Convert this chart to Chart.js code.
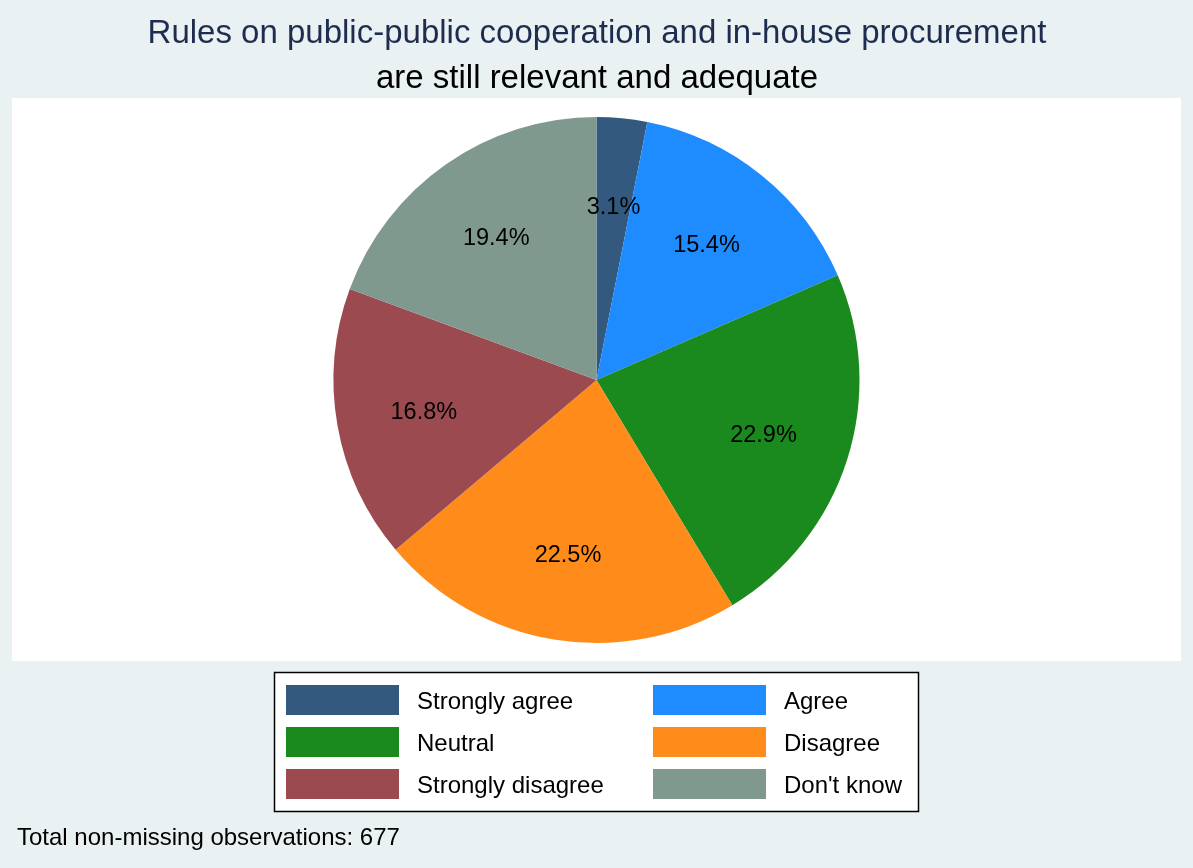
<!DOCTYPE html>
<html>
<head>
<meta charset="utf-8">
<script src="https://cdn.jsdelivr.net/npm/chart.js@4/dist/chart.umd.min.js"></script>
<style>
	html, body { margin: 0; padding: 0; background: #eaf1f3; }
	#wrap { position: relative; width: 1193px; height: 868px; }
</style>
</head>
<body>
<div id="wrap"><canvas id="pie"></canvas></div>
<script>
const categories = ["Strongly agree", "Agree", "Neutral", "Disagree", "Strongly disagree", "Don't know"];
const shares = [3.1, 15.4, 22.9, 22.5, 16.8, 19.4];
const colors = ["#335a7e", "#1e8cff", "#1b8a1e", "#ff8c1a", "#9b4a50", "#80998f"];
const titleLines = ["Rules on public-public cooperation and in-house procurement", "are still relevant and adequate"];
const note = "Total non-missing observations: 677";

const FONT = "'Liberation Sans', Arial, sans-serif";

// background, white plot region, titles, legend box and note
const frame = {
	id: "frame",
	beforeDraw(chart) {
		const ctx = chart.ctx;
		ctx.save();
		ctx.fillStyle = "#eaf1f3";
		ctx.fillRect(0, 0, chart.width, chart.height);
		ctx.fillStyle = "#ffffff";
		ctx.fillRect(12, 98, 1169, 563);
		ctx.restore();
	},
	afterDraw(chart) {
		const ctx = chart.ctx;
		ctx.save();
		ctx.textAlign = "center";
		ctx.textBaseline = "alphabetic";
		ctx.font = "33px " + FONT;
		ctx.fillStyle = "#1e2d4f";
		ctx.fillText(titleLines[0], 597, 43);
		ctx.fillStyle = "#000000";
		ctx.fillText(titleLines[1], 597, 88);

		// legend
		ctx.fillStyle = "#ffffff";
		ctx.fillRect(274, 672, 644, 139);
		ctx.strokeStyle = "#000000";
		ctx.lineWidth = 1.5;
		ctx.strokeRect(274.5, 672.5, 644, 139);
		ctx.textAlign = "left";
		ctx.textBaseline = "middle";
		ctx.font = "24px " + FONT;
		categories.forEach((c, i) => {
			const col = i % 2, row = Math.floor(i / 2);
			const x = 286 + col * 367, y = 685 + row * 42;
			ctx.fillStyle = colors[i];
			ctx.fillRect(x, y, 113, 30);
			ctx.fillStyle = "#000000";
			ctx.fillText(c, x + 131, y + 17);
		});

		ctx.font = "24px " + FONT;
		ctx.fillText(note, 17, 838);
		ctx.restore();
	}
};

// percentage labels at two thirds of the radius
const sliceLabels = {
	id: "sliceLabels",
	afterDatasetsDraw(chart) {
		const ctx = chart.ctx;
		const meta = chart.getDatasetMeta(0);
		ctx.save();
		ctx.font = "23.5px " + FONT;
		ctx.fillStyle = "#000000";
		ctx.textAlign = "center";
		ctx.textBaseline = "middle";
		meta.data.forEach((arc, i) => {
			const p = arc.getProps(["x", "y", "startAngle", "endAngle", "outerRadius"], true);
			const a = (p.startAngle + p.endAngle) / 2;
			const r = p.outerRadius * 2 / 3;
			ctx.fillText(shares[i].toFixed(1) + "%", p.x + Math.cos(a) * r, p.y + Math.sin(a) * r + 2.5);
		});
		ctx.restore();
	}
};

new Chart(document.getElementById("pie"), {
	type: "pie",
	data: {
		labels: categories,
		datasets: [{
			data: shares,
			backgroundColor: colors,
			borderWidth: 0
		}]
	},
	options: {
		responsive: true,
		maintainAspectRatio: false,
		animation: false,
		layout: { padding: { top: 117, bottom: 225, left: 0, right: 0 } },
		plugins: {
			legend: { display: false },
			tooltip: { enabled: false },
			title: { display: false }
		}
	},
	plugins: [frame, sliceLabels]
});
</script>
</body>
</html>
